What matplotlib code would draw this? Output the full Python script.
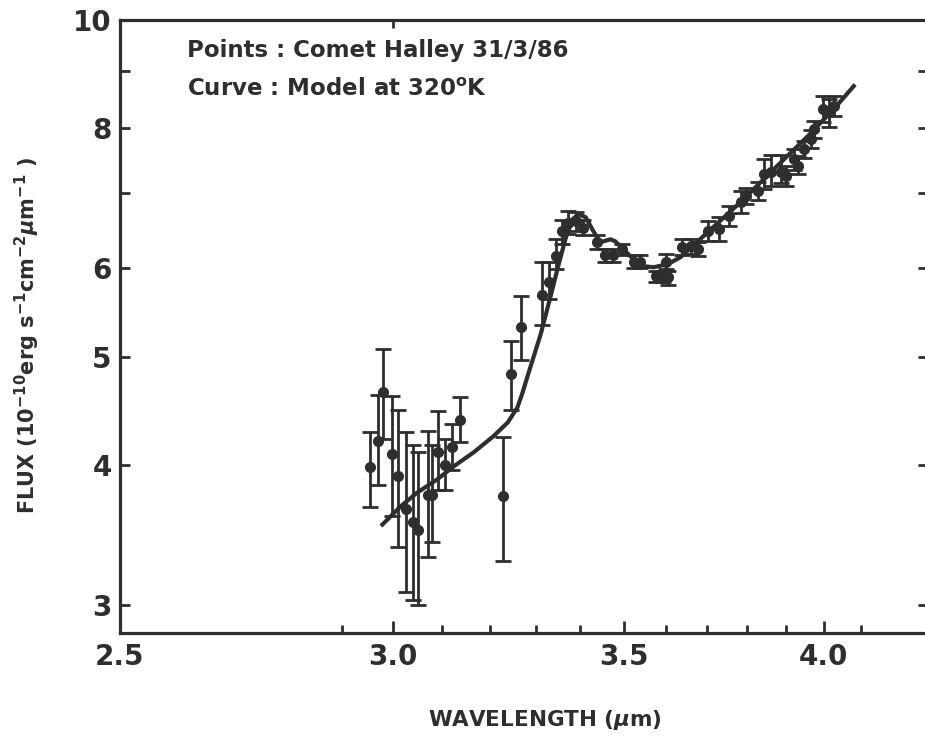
import matplotlib
matplotlib.use("Agg")
import numpy as np
import matplotlib.pyplot as plt
from matplotlib.ticker import FixedLocator, NullLocator, NullFormatter

# Halley spectrum, 31/3/86 (flux in 1e-10 erg s-1 cm-2 um-1)
wavelength = [2.955, 2.971, 2.981, 2.999, 3.011, 3.027, 3.041, 3.051, 3.070, 3.080,
              3.092, 3.107, 3.121, 3.138, 3.228, 3.245, 3.267, 3.313, 3.329, 3.344,
              3.359, 3.373, 3.389, 3.407, 3.437, 3.457, 3.476, 3.497, 3.523, 3.539,
              3.575, 3.592, 3.600, 3.606, 3.640, 3.660, 3.679, 3.702, 3.729, 3.754,
              3.784, 3.797, 3.828, 3.843, 3.861, 3.887, 3.900, 3.921, 3.931, 3.947,
              3.965, 3.974, 3.998, 4.014, 4.027]
flux = [3.98, 4.20, 4.65, 4.09, 3.91, 3.65, 3.56, 3.50, 3.76, 3.76,
        4.11, 4.00, 4.15, 4.39, 3.75, 4.82, 5.31, 5.68, 5.83, 6.15,
        6.47, 6.59, 6.61, 6.52, 6.33, 6.16, 6.16, 6.24, 6.08, 6.08,
        5.90, 5.90, 6.08, 5.89, 6.26, 6.28, 6.24, 6.47, 6.50, 6.68,
        6.87, 6.96, 7.03, 7.28, 7.32, 7.31, 7.25, 7.51, 7.40, 7.66,
        7.83, 7.99, 8.32, 8.27, 8.38]
flux_hi = [4.28, 4.62, 5.08, 4.61, 4.48, 4.28, 4.17, 4.11, 4.29, 4.17,
           4.47, 4.22, 4.35, 4.60, 4.24, 5.16, 5.66, 6.08, 6.07, 6.37,
           6.62, 6.75, 6.73, 6.63, 6.42, 6.24, 6.24, 6.31, 6.16, 6.16,
           5.97, 5.97, 6.17, 5.97, 6.37, 6.37, 6.33, 6.61, 6.66, 6.82,
           7.03, 7.08, 7.16, 7.51, 7.57, 7.57, 7.40, 7.67, 7.55, 7.80,
           7.97, 8.13, 8.55, 8.50, 8.55]
flux_lo = [3.67, 3.84, 4.22, 3.60, 3.38, 3.08, 3.03, 3.00, 3.31, 3.41,
           3.80, 3.80, 3.96, 4.19, 3.28, 4.48, 4.97, 5.34, 5.63, 5.99,
           6.30, 6.43, 6.47, 6.42, 6.24, 6.08, 6.08, 6.16, 6.00, 6.00,
           5.83, 5.83, 5.99, 5.80, 6.16, 6.18, 6.15, 6.34, 6.35, 6.54,
           6.72, 6.84, 6.90, 7.06, 7.10, 7.15, 7.10, 7.35, 7.28, 7.52,
           7.68, 7.85, 8.10, 8.02, 8.20]

# 320 K model
model_wl = [2.979, 3.015, 3.049, 3.090, 3.124, 3.166, 3.208, 3.239, 3.260, 3.271,
            3.282, 3.311, 3.333, 3.350, 3.366, 3.382, 3.396, 3.412, 3.427, 3.445,
            3.469, 3.480, 3.499, 3.523, 3.547, 3.570, 3.604, 3.635, 3.702, 3.784,
            3.869, 3.958, 4.027, 4.081]
model_flux = [3.538, 3.672, 3.779, 3.883, 3.988, 4.105, 4.243, 4.366, 4.503, 4.640,
              4.800, 5.235, 5.661, 6.023, 6.366, 6.634, 6.704, 6.662, 6.500, 6.327,
              6.366, 6.340, 6.237, 6.109, 6.023, 6.010, 6.047, 6.135, 6.460, 6.873,
              7.355, 7.874, 8.324, 8.727]

x_major = [2.5, 3.0, 3.5, 4.0]
x_labels = ["2.5", "3.0", "3.5", "4.0"]
x_minor = [2.9, 3.1, 3.2, 3.3, 3.4, 3.6, 3.7, 3.8, 3.9, 4.1]
y_major = [3, 4, 5, 6, 8, 10]
y_labels = ["3", "4", "5", "6", "8", "10"]
y_minor = [7, 9]

ink = "#2e2e2e"
plt.rcParams["font.family"] = ["DejaVu Sans"]
plt.rcParams["font.weight"] = "bold"
plt.rcParams["mathtext.fontset"] = "custom"
plt.rcParams["mathtext.rm"] = "DejaVu Sans:bold"
plt.rcParams["mathtext.it"] = "DejaVu Sans:bold:italic"
plt.rcParams["mathtext.bf"] = "DejaVu Sans:bold"

fig = plt.figure(figsize=(9.25, 7.36), dpi=100)
ax = fig.add_axes([120 / 925, 103 / 736, 805 / 925, 613 / 736])
ax.set_xscale("log")
ax.set_yscale("log")
ax.set_xlim(2.5, 4.28)
ax.set_ylim(2.83, 10.0)

flux_arr = np.array(flux)
yerr = [flux_arr - np.array(flux_lo), np.array(flux_hi) - flux_arr]
ax.errorbar(wavelength, flux, yerr=yerr, fmt="o", ms=7, color=ink,
            elinewidth=2, capsize=6, capthick=2, zorder=3)
ax.plot(model_wl, model_flux, color=ink, lw=3, zorder=4)

# axes frame: left, bottom and top lines only
for side in ["left", "bottom", "top"]:
    ax.spines[side].set_linewidth(2.3)
    ax.spines[side].set_color(ink)
ax.spines["right"].set_visible(False)

ax.xaxis.set_major_locator(FixedLocator(x_major))
ax.xaxis.set_minor_locator(FixedLocator(x_minor))
ax.set_xticklabels(x_labels)
ax.xaxis.set_minor_formatter(NullFormatter())
ax.yaxis.set_major_locator(FixedLocator(y_major))
ax.yaxis.set_minor_locator(FixedLocator(y_minor))
ax.set_yticklabels(y_labels)
ax.yaxis.set_minor_formatter(NullFormatter())

ax.tick_params(axis="x", which="major", direction="in", length=9, width=2,
               color=ink, labelsize=20, pad=7, labelcolor=ink, top=False)
ax.tick_params(axis="x", which="minor", direction="in", length=6, width=2,
               color=ink, top=False)
ax.tick_params(axis="y", which="both", direction="in", length=7, width=2,
               color=ink, labelsize=20, pad=6, labelcolor=ink, right=False)

# short inward ticks along the right edge and at 3.0 on the top edge
sec_y = ax.secondary_yaxis("right")
sec_y.yaxis.set_major_locator(FixedLocator([3, 4, 5, 6, 7, 8, 9]))
sec_y.yaxis.set_minor_locator(NullLocator())
sec_y.tick_params(direction="in", length=5, width=2, color=ink, labelright=False)
sec_y.spines["right"].set_visible(False)

sec_x = ax.secondary_xaxis("top")
sec_x.xaxis.set_major_locator(FixedLocator([3.0]))
sec_x.xaxis.set_minor_locator(NullLocator())
sec_x.tick_params(direction="in", length=6, width=2, color=ink, labeltop=False)
sec_x.spines["top"].set_visible(False)

ax.set_xlabel("WAVELENGTH ($\\mu$m)", fontsize=15.5, fontweight="bold", color=ink)
ax.xaxis.set_label_coords(0.528, -0.122)
ax.set_ylabel("FLUX (10$^{-10}$erg s$^{-1}$cm$^{-2}$$\\mu$m$^{-1}$ )", fontsize=15,
              fontweight="bold", color=ink)
ax.yaxis.set_label_coords(-0.097, 0.486)

fig.text(187 / 925, 1 - 50 / 736, "Points : Comet Halley 31/3/86", fontsize=16.5,
         fontweight="bold", color=ink, va="center")
fig.text(187 / 925, 1 - 90 / 736, "Curve : Model at 320$^{\\mathrm{o}}$K", fontsize=16.5,
         fontweight="bold", color=ink, va="center")

fig.savefig("out.png", dpi=100)
